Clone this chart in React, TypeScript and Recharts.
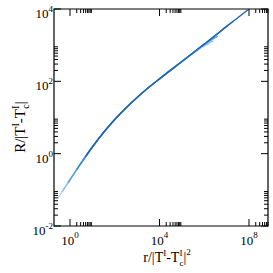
import { LineChart, Line, XAxis, YAxis, ReferenceArea } from 'recharts'

const W = 273
const H = 273
const M = { top: 9, right: 5, bottom: 0, left: 0 }
const Y_AXIS_W = 54
const X_AXIS_H = 47
const PW = W - M.left - M.right - Y_AXIS_W
const PH = H - M.top - M.bottom - X_AXIS_H
const FONT = '"Liberation Serif", "DejaVu Serif", serif'

// axis ranges and tick positions
const X_DOMAIN = [0.193, 7.06e8]
const Y_DOMAIN = [0.01, 10000]
const X_MAJOR = [1, 1e4, 1e8]
const Y_MAJOR = [0.01, 1, 100, 10000]
const MINOR = [2, 3, 4, 5, 6, 7, 8, 9]

const withMinor = (majors: number[], max: number) => {
    const out: number[] = [...majors]
    majors.forEach((m) => MINOR.forEach((k) => { if (m * k < max) out.push(m * k) }))
    return out.sort((a, b) => a - b)
}
const X_TICKS = withMinor(X_MAJOR, X_DOMAIN[1])
const Y_TICKS = withMinor(Y_MAJOR, Y_DOMAIN[1])

// curves: r/|T-Tc|^2 vs R/|T-Tc|, lighter to darker
const r1 = [0.29, 0.5, 1, 3.16, 10, 31.6, 100, 316, 1000, 3162, 1e4, 3.16e4, 1e5, 3.16e5, 1e6, 1.6e6]
const R1 = [0.059, 0.1, 0.19, 0.556, 1.53, 3.85, 8.81, 18.4, 35.9, 66.1, 117, 202, 348, 585, 940, 1070]
const r2 = [0.45, 1, 3.16, 10, 31.6, 100, 316, 1000, 3162, 1e4, 3.16e4, 1e5, 3.16e5, 1e6, 2.5e6]
const R2 = [0.089, 0.19, 0.556, 1.53, 3.85, 8.81, 18.4, 35.9, 66.1, 117, 203, 351, 600, 1000, 1320]
const r3 = [0.8, 1, 3.16, 10, 31.6, 100, 316, 1000, 3162, 1e4, 3.16e4, 1e5, 3.16e5, 1e6, 4e6]
const R3 = [0.155, 0.19, 0.556, 1.53, 3.85, 8.81, 18.4, 35.9, 66.1, 117, 204, 353, 610, 1040, 1780]
const r4 = [2, 3.16, 10, 31.6, 100, 316, 1000, 3162, 1e4, 3.16e4, 1e5, 3.16e5, 1e6, 3.16e6, 1e7, 2e7]
const R4 = [0.363, 0.556, 1.53, 3.85, 8.81, 18.4, 35.9, 66.1, 117, 204, 355, 617, 1072, 1862, 3311, 4570]
const r5 = [5, 10, 31.6, 100, 316, 1000, 3162, 1e4, 3.16e4, 1e5, 3.16e5, 1e6, 3.16e6, 1e7, 3.16e7, 1e8]
const R5 = [0.83, 1.53, 3.85, 8.81, 18.4, 35.9, 66.1, 117, 204, 355, 617, 1072, 1862, 3311, 5754, 10000]

const SERIES = [
    { r: r1, R: R1, color: '#b8d8f2' },
    { r: r2, R: R2, color: '#8cc0ea' },
    { r: r3, R: R3, color: '#5ea3dd' },
    { r: r4, R: R4, color: '#3a86c8' },
    { r: r5, R: R5, color: '#1f65ae' },
]

const exp10 = (v: number) => String(Math.round(Math.log10(v)))

function XTick({ x, y, payload }: any) {
    const v = payload.value
    const major = X_MAJOR.includes(v)
    const len = major ? 7 : 4
    return (
        <g>
            <line x1={x} x2={x} y1={y} y2={y - len} stroke="#000" />
            <line x1={x} x2={x} y1={y - PH} y2={y - PH + len} stroke="#000" />
            {major && (
                <text x={x} y={y + 19} textAnchor="middle" fontFamily={FONT} fontSize={13} fill="#000">
                    10<tspan dy={-7} fontSize={9}>{exp10(v)}</tspan>
                </text>
            )}
        </g>
    )
}

function YTick({ x, y, payload }: any) {
    const v = payload.value
    const major = Y_MAJOR.includes(v)
    const len = major ? 7 : 4
    return (
        <g>
            <line x1={x} x2={x + len} y1={y} y2={y} stroke="#000" />
            <line x1={x + PW} x2={x + PW - len} y1={y} y2={y} stroke="#000" />
            {major && (
                <text x={x - 1} y={y + 9} textAnchor="end" fontFamily={FONT} fontSize={13} fill="#000">
                    10<tspan dy={-6} fontSize={9}>{exp10(v)}</tspan>
                </text>
            )}
        </g>
    )
}

const XTitle = () => (
    <text x={167} y={262} textAnchor="middle" fontFamily={FONT} fontSize={14} fill="#000">
        r/|T<tspan dy={-6} fontSize={9}>I</tspan>
        <tspan dy={6}>-T</tspan>
        <tspan dy={-6} fontSize={9}>I</tspan>
        <tspan dx={-3} dy={10} fontSize={9}>c</tspan>
        <tspan dy={-4}>|</tspan>
        <tspan dy={-7} fontSize={9}>2</tspan>
    </text>
)

const YTitle = () => (
    <text x={0} y={0} transform="translate(25,127) rotate(-90)" textAnchor="middle" fontFamily={FONT} fontSize={15} fill="#000">
        R/|T<tspan dy={-6} fontSize={10}>I</tspan>
        <tspan dy={6}>-T</tspan>
        <tspan dy={-6} fontSize={10}>I</tspan>
        <tspan dx={-3} dy={10} fontSize={10}>c</tspan>
        <tspan dy={-4}>|</tspan>
    </text>
)

export default function App() {
    return (
        <div style={{ position: 'absolute', left: 0, top: 0, background: '#fff' }}>
            <LineChart width={W} height={H} margin={M}>
                <XAxis
                    type="number"
                    dataKey="r"
                    scale="log"
                    domain={X_DOMAIN}
                    ticks={X_TICKS}
                    interval={0}
                    allowDataOverflow
                    height={X_AXIS_H}
                    tickSize={0}
                    tickMargin={0}
                    tickLine={false}
                    axisLine={false}
                    tick={XTick}
                    label={{ content: () => <XTitle /> }}
                />
                <YAxis
                    type="number"
                    scale="log"
                    domain={Y_DOMAIN}
                    ticks={Y_TICKS}
                    interval={0}
                    allowDataOverflow
                    width={Y_AXIS_W}
                    tickSize={0}
                    tickMargin={0}
                    tickLine={false}
                    axisLine={false}
                    tick={YTick}
                    label={{ content: () => <YTitle /> }}
                />
                <ReferenceArea x1={X_DOMAIN[0]} x2={X_DOMAIN[1]} y1={Y_DOMAIN[0]} y2={Y_DOMAIN[1]} fill="none" stroke="#000" strokeWidth={1.2} />
                {SERIES.map((s, i) => (
                    <Line
                        key={i}
                        data={s.r.map((r, j) => ({ r, R: s.R[j] }))}
                        dataKey="R"
                        type="monotone"
                        stroke={s.color}
                        strokeWidth={1.4}
                        dot={false}
                        isAnimationActive={false}
                    />
                ))}
            </LineChart>
        </div>
    )
}
